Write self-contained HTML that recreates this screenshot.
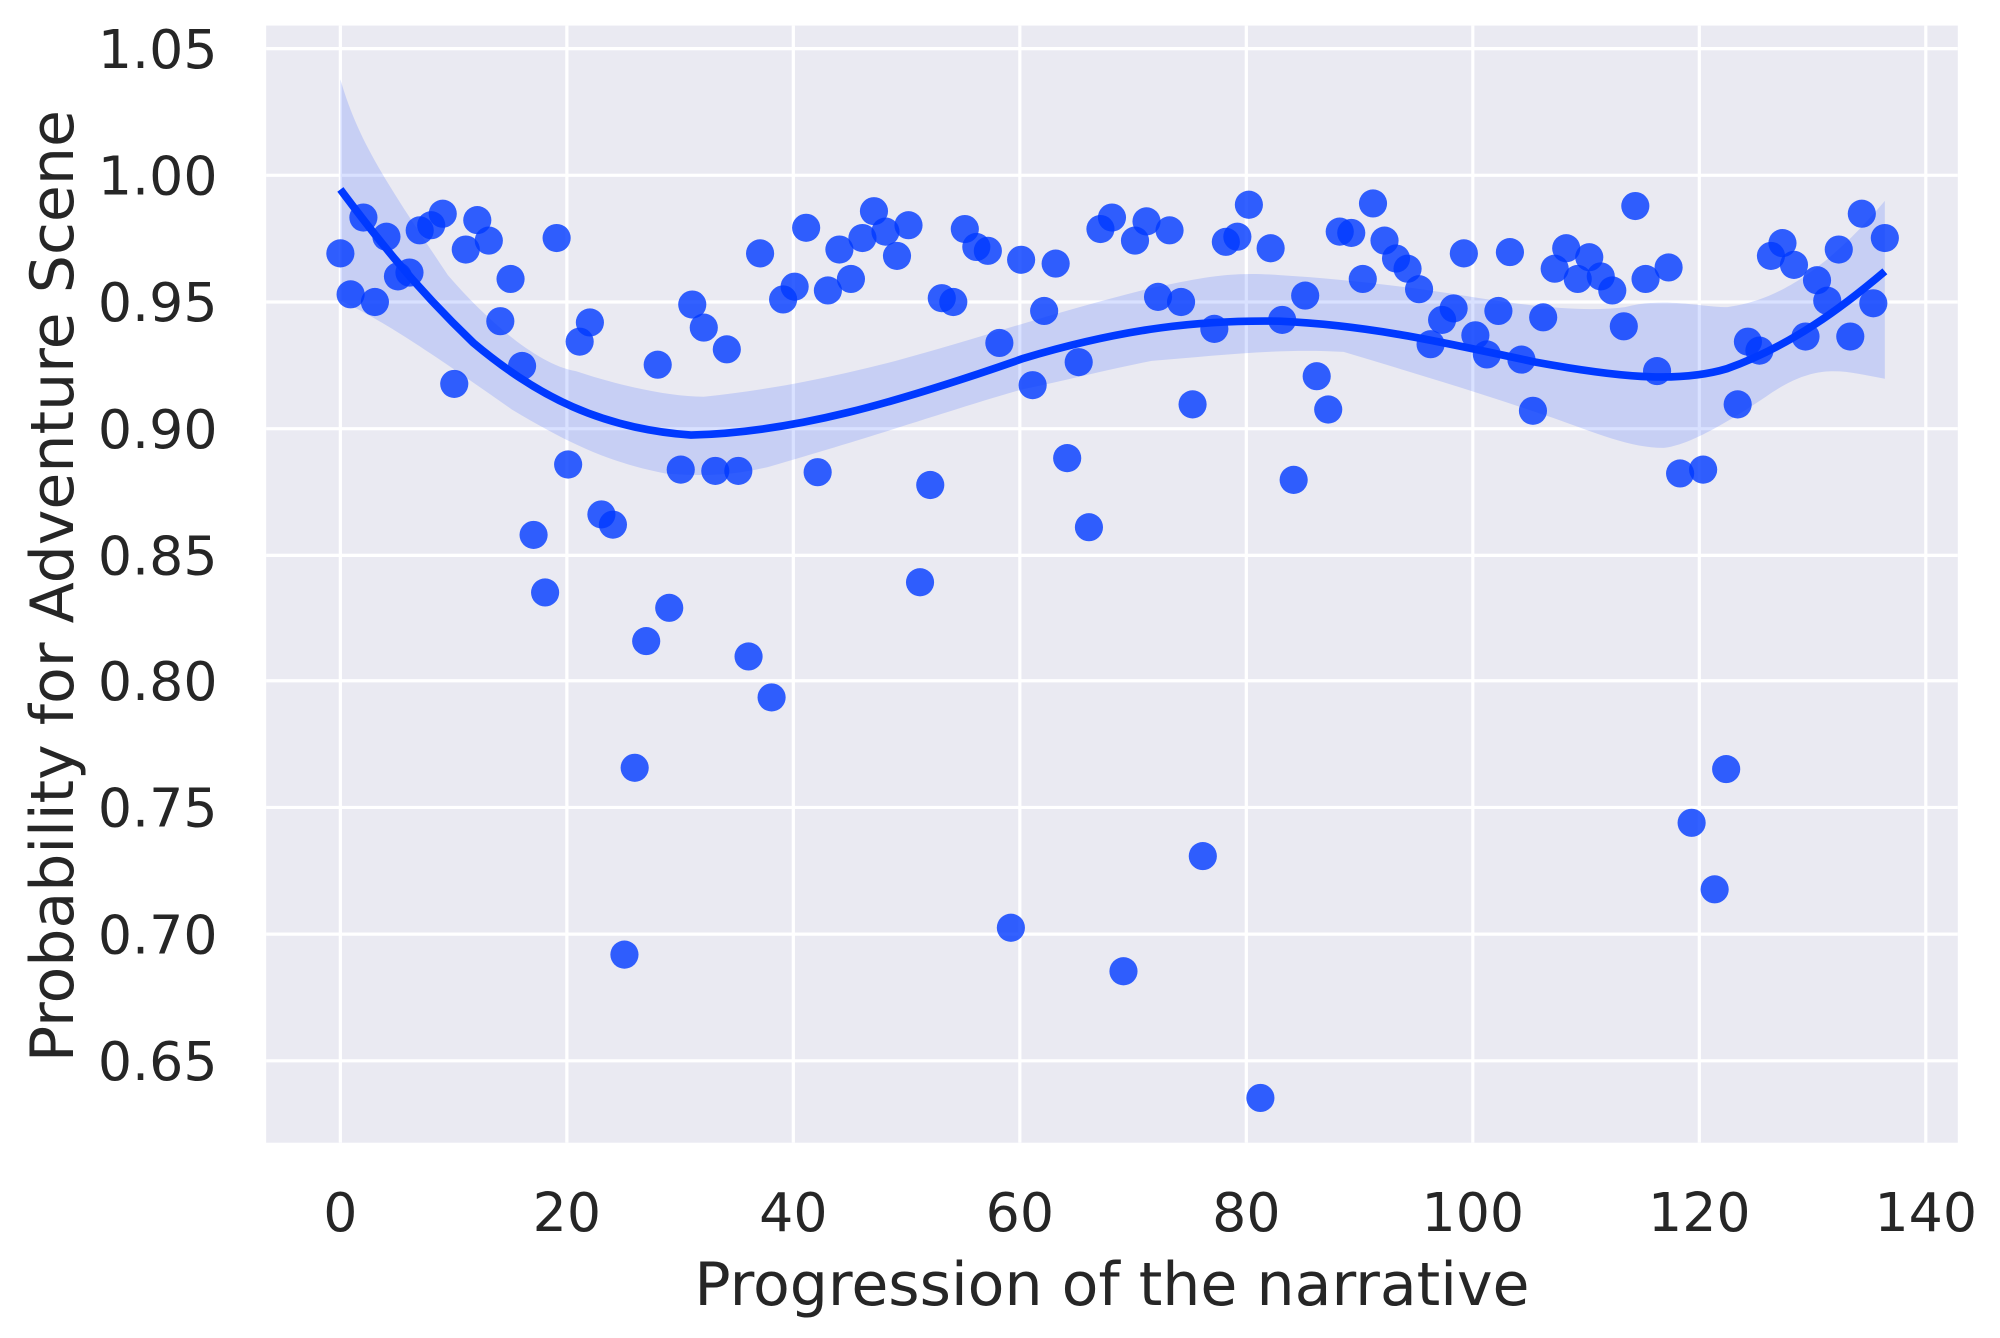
<!DOCTYPE html>
<html><head><style>html,body{margin:0;padding:0;background:#fff}svg{display:block}</style></head>
<body>
<svg width="2000" height="1338" viewBox="0 0 1563 1045.6" preserveAspectRatio="none" xmlns="http://www.w3.org/2000/svg" font-family="DejaVu Sans, Liberation Sans, sans-serif">
<rect x="208" y="20" width="1322" height="873" fill="#eaeaf2"/>
<g stroke="#fff" stroke-width="2.5">
<line x1="266" y1="20" x2="266" y2="893"/><line x1="443" y1="20" x2="443" y2="893"/><line x1="620" y1="20" x2="620" y2="893"/><line x1="797" y1="20" x2="797" y2="893"/><line x1="974" y1="20" x2="974" y2="893"/><line x1="1151" y1="20" x2="1151" y2="893"/><line x1="1328" y1="20" x2="1328" y2="893"/><line x1="1505" y1="20" x2="1505" y2="893"/>
<line x1="208" y1="38" x2="1530" y2="38"/><line x1="208" y1="137" x2="1530" y2="137"/><line x1="208" y1="236" x2="1530" y2="236"/><line x1="208" y1="335" x2="1530" y2="335"/><line x1="208" y1="434" x2="1530" y2="434"/><line x1="208" y1="532" x2="1530" y2="532"/><line x1="208" y1="631" x2="1530" y2="631"/><line x1="208" y1="730" x2="1530" y2="730"/><line x1="208" y1="829" x2="1530" y2="829"/>
</g>
<g fill="#0039ff" fill-opacity="0.8">
<circle cx="266" cy="198" r="11"/><circle cx="274" cy="230" r="11"/><circle cx="284" cy="170" r="11"/><circle cx="293" cy="236" r="11"/><circle cx="302" cy="185" r="11"/><circle cx="311" cy="216" r="11"/><circle cx="320" cy="213" r="11"/><circle cx="328" cy="180" r="11"/><circle cx="337" cy="176" r="11"/><circle cx="346" cy="167" r="11"/><circle cx="355" cy="300" r="11"/><circle cx="364" cy="195" r="11"/><circle cx="373" cy="172" r="11"/><circle cx="382" cy="188" r="11"/><circle cx="391" cy="251" r="11"/><circle cx="399" cy="218" r="11"/><circle cx="408" cy="286" r="11"/><circle cx="417" cy="418" r="11"/><circle cx="426" cy="463" r="11"/><circle cx="435" cy="186" r="11"/><circle cx="444" cy="363" r="11"/><circle cx="453" cy="267" r="11"/><circle cx="461" cy="252" r="11"/><circle cx="470" cy="402" r="11"/><circle cx="479" cy="410" r="11"/><circle cx="488" cy="746" r="11"/><circle cx="496" cy="600" r="11"/><circle cx="505" cy="501" r="11"/><circle cx="514" cy="285" r="11"/><circle cx="523" cy="475" r="11"/><circle cx="532" cy="367" r="11"/><circle cx="541" cy="238" r="11"/><circle cx="550" cy="256" r="11"/><circle cx="559" cy="368" r="11"/><circle cx="568" cy="273" r="11"/><circle cx="577" cy="368" r="11"/><circle cx="585" cy="513" r="11"/><circle cx="594" cy="198" r="11"/><circle cx="603" cy="545" r="11"/><circle cx="612" cy="234" r="11"/><circle cx="621" cy="224" r="11"/><circle cx="630" cy="178" r="11"/><circle cx="639" cy="369" r="11"/><circle cx="647" cy="227" r="11"/><circle cx="656" cy="195" r="11"/><circle cx="665" cy="218" r="11"/><circle cx="674" cy="186" r="11"/><circle cx="683" cy="165" r="11"/><circle cx="692" cy="181" r="11"/><circle cx="701" cy="200" r="11"/><circle cx="710" cy="176" r="11"/><circle cx="719" cy="455" r="11"/><circle cx="727" cy="379" r="11"/><circle cx="736" cy="233" r="11"/><circle cx="745" cy="236" r="11"/><circle cx="754" cy="179" r="11"/><circle cx="763" cy="193" r="11"/><circle cx="772" cy="196" r="11"/><circle cx="781" cy="268" r="11"/><circle cx="790" cy="725" r="11"/><circle cx="798" cy="203" r="11"/><circle cx="807" cy="301" r="11"/><circle cx="816" cy="243" r="11"/><circle cx="825" cy="206" r="11"/><circle cx="834" cy="358" r="11"/><circle cx="843" cy="283" r="11"/><circle cx="851" cy="412" r="11"/><circle cx="860" cy="179" r="11"/><circle cx="869" cy="170" r="11"/><circle cx="878" cy="759" r="11"/><circle cx="887" cy="188" r="11"/><circle cx="896" cy="173" r="11"/><circle cx="905" cy="232" r="11"/><circle cx="914" cy="180" r="11"/><circle cx="923" cy="236" r="11"/><circle cx="932" cy="316" r="11"/><circle cx="940" cy="669" r="11"/><circle cx="949" cy="257" r="11"/><circle cx="958" cy="189" r="11"/><circle cx="967" cy="185" r="11"/><circle cx="976" cy="160" r="11"/><circle cx="985" cy="858" r="11"/><circle cx="993" cy="194" r="11"/><circle cx="1002" cy="250" r="11"/><circle cx="1011" cy="375" r="11"/><circle cx="1020" cy="231" r="11"/><circle cx="1029" cy="294" r="11"/><circle cx="1038" cy="320" r="11"/><circle cx="1047" cy="181" r="11"/><circle cx="1056" cy="182" r="11"/><circle cx="1065" cy="218" r="11"/><circle cx="1073" cy="159" r="11"/><circle cx="1082" cy="188" r="11"/><circle cx="1091" cy="202" r="11"/><circle cx="1100" cy="210" r="11"/><circle cx="1109" cy="226" r="11"/><circle cx="1118" cy="269" r="11"/><circle cx="1127" cy="250" r="11"/><circle cx="1136" cy="241" r="11"/><circle cx="1144" cy="198" r="11"/><circle cx="1153" cy="262" r="11"/><circle cx="1162" cy="277" r="11"/><circle cx="1171" cy="243" r="11"/><circle cx="1180" cy="197" r="11"/><circle cx="1189" cy="281" r="11"/><circle cx="1198" cy="321" r="11"/><circle cx="1206" cy="248" r="11"/><circle cx="1215" cy="210" r="11"/><circle cx="1224" cy="194" r="11"/><circle cx="1233" cy="218" r="11"/><circle cx="1242" cy="201" r="11"/><circle cx="1251" cy="216" r="11"/><circle cx="1260" cy="227" r="11"/><circle cx="1269" cy="255" r="11"/><circle cx="1278" cy="161" r="11"/><circle cx="1286" cy="218" r="11"/><circle cx="1295" cy="290" r="11"/><circle cx="1304" cy="209" r="11"/><circle cx="1313" cy="370" r="11"/><circle cx="1322" cy="643" r="11"/><circle cx="1331" cy="367" r="11"/><circle cx="1340" cy="695" r="11"/><circle cx="1349" cy="601" r="11"/><circle cx="1358" cy="316" r="11"/><circle cx="1366" cy="267" r="11"/><circle cx="1375" cy="274" r="11"/><circle cx="1384" cy="200" r="11"/><circle cx="1393" cy="190" r="11"/><circle cx="1402" cy="207" r="11"/><circle cx="1411" cy="263" r="11"/><circle cx="1420" cy="219" r="11"/><circle cx="1428" cy="235" r="11"/><circle cx="1437" cy="195" r="11"/><circle cx="1446" cy="263" r="11"/><circle cx="1455" cy="167" r="11"/><circle cx="1464" cy="237" r="11"/><circle cx="1473" cy="186" r="11"/>
</g>
<path d="M266,62 C280,110 300,140 350,215 C380,250 420,285 450,290 C480,300 520,310 550,310 C600,305 650,295 700,282 C760,266 820,245 900,225 C940,217 960,212 1000,215 C1050,218 1100,224 1150,232 C1200,240 1240,244 1270,240 C1300,232 1330,240 1350,240 C1380,236 1420,220 1473,157 L1473,296 C1440,290 1420,282 1380,310 C1350,330 1320,348 1300,350 C1270,350 1240,335 1200,322 C1150,305 1100,290 1050,275 C1000,272 950,278 900,282 C860,290 830,298 800,304 C750,318 700,336 600,365 C570,372 550,372 520,370 C480,362 450,350 400,320 C350,285 300,250 266,235 Z" fill="#0039ff" fill-opacity="0.15"/>
<path d="M266,148 C290,180 320,220 370,268 C420,310 470,335 540,340 C620,338 700,315 800,280 C880,256 940,250 1000,251 C1070,254 1130,268 1200,283 C1260,294 1310,300 1350,288 C1400,270 1440,240 1473,212" fill="none" stroke="#0039ff" stroke-width="6"/>
<g fill="#262626" font-size="42">
<g text-anchor="end">
<text x="170" y="53">1.05</text><text x="170" y="152">1.00</text><text x="170" y="251">0.95</text><text x="170" y="350">0.90</text><text x="170" y="449">0.85</text><text x="170" y="547">0.80</text><text x="170" y="646">0.75</text><text x="170" y="745">0.70</text><text x="170" y="844">0.65</text>
</g>
<g text-anchor="middle">
<text x="266" y="962">0</text><text x="443" y="962">20</text><text x="620" y="962">40</text><text x="797" y="962">60</text><text x="974" y="962">80</text><text x="1151" y="962">100</text><text x="1328" y="962">120</text><text x="1505" y="962">140</text>
<text x="869" y="1020" font-size="47">Progression of the narrative</text>
<text transform="translate(57,458) rotate(-90)" font-size="47">Probability for Adventure Scene</text>
</g>
</g>
</svg>
</body></html>
